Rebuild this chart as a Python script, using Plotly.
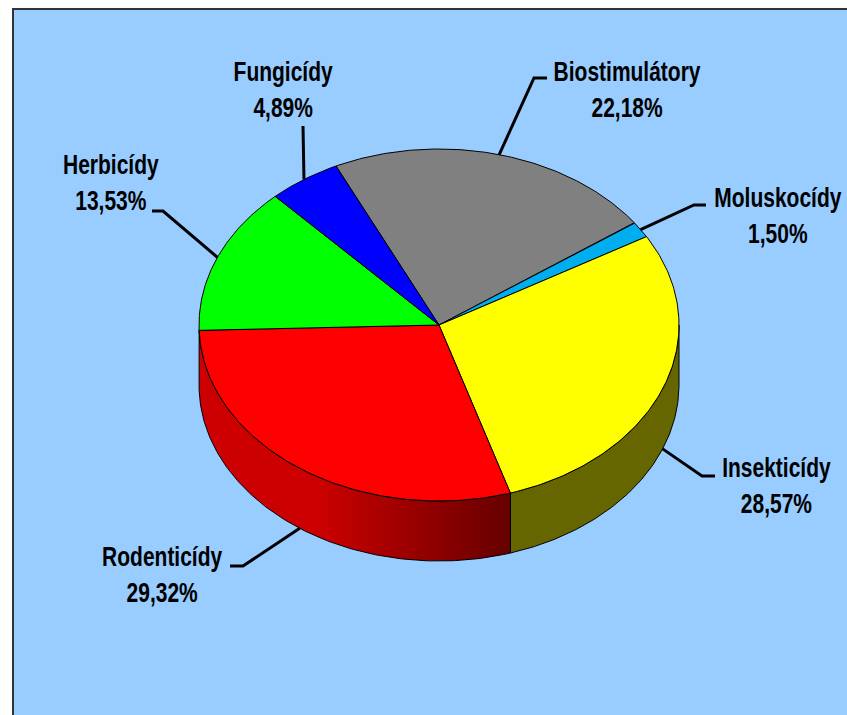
"""
Pesticide market shares, tilted 3D pie with filled scatter traces
"""

import numpy as np
import plotly.graph_objects as go

categories = ['Biostimulátory', 'Moluskocídy', 'Insekticídy', 'Rodenticídy', 'Herbicídy', 'Fungicídy']
shares = [22.18, 1.50, 28.57, 29.32, 13.53, 4.89]
share_labels = ['22,18%', '1,50%', '28,57%', '29,32%', '13,53%', '4,89%']

top_colors = ['#808080', '#00AEEF', '#FFFF00', '#FF0000', '#00FF00', '#0000FF']
side_colors = ['#404040', '#005878', '#666600', '#CC0000', '#008000', '#000080']

# pie geometry in page pixels
CX, CY = 439, 325
RX, RY = 240, 176
DEPTH = 60
START_DEG = -25.4

PAGE_W, PAGE_H = 847, 715

# label centre, then the elbow of its leader line and where the leader ends
label_pos = [(627, 89), (778, 215), (776, 485), (162, 574), (111, 182), (283, 89)]
leader_elbow = [(534, 78), (694, 205), (702, 476), (243, 566), (163, 211), (303, 126)]
leader_end = [(547, 78), (706, 205), (715, 476), (230, 566), (152, 211), (303, 126)]

FONT = 'Liberation Sans, Arial, sans-serif'

# drop the body margin, and no condensed bold font here so squeeze the labels
PAGE_FIXES = """
document.body.style.margin = '0';
document.body.style.overflow = 'hidden';
document.querySelectorAll('.annotation-text').forEach(function (t) {
    t.style.transformBox = 'fill-box';
    t.style.transformOrigin = 'center';
    t.style.transform = 'scaleX(0.75)';
});
"""


def rim(deg):
    """Point on the top ellipse, angle clockwise from 12 o'clock"""
    t = np.radians(deg)
    return CX + RX * np.sin(t), CY - RY * np.cos(t)


edges = START_DEG + np.concatenate([[0], np.cumsum(shares)]) * 3.6

fig = go.Figure()

# side walls, only the front half of the pie shows
for i, name in enumerate(categories):
    a = max(edges[i], 90)
    b = min(edges[i + 1], 270)
    if b - a < 2:
        continue
    x, y = rim(np.linspace(a, b, 120))
    trace = dict(
        x=np.concatenate([x, x[::-1], x[:1]]),
        y=np.concatenate([y, y[::-1] + DEPTH, y[:1]]),
        mode='lines',
        fill='toself',
        line=dict(color='black', width=1),
        hoverinfo='skip',
        showlegend=False,
    )
    if name == 'Rodenticídy':
        trace['fillgradient'] = dict(
            type='horizontal',
            colorscale=[[0, '#660000'], [0.62, '#CC0000'], [1, '#CC0000']],
            start=x.max(),
            stop=x.min(),
        )
    else:
        trace['fillcolor'] = side_colors[i]
    fig.add_trace(go.Scatter(**trace))

# top face
for i, name in enumerate(categories):
    x, y = rim(np.linspace(edges[i], edges[i + 1], 120))
    fig.add_trace(go.Scatter(
        x=np.concatenate([[CX], x, [CX]]),
        y=np.concatenate([[CY], y, [CY]]),
        mode='lines',
        fill='toself',
        fillcolor=top_colors[i],
        line=dict(color='black', width=1),
        name=name,
        text=share_labels[i],
        hoverinfo='name+text',
        showlegend=False,
    ))

# leader lines start at the middle of each slice, on the wall if it is in front
for i, name in enumerate(categories):
    mid = (edges[i] + edges[i + 1]) / 2
    x0, y0 = rim(mid)
    if 90 < mid < 270:
        y0 += DEPTH
    fig.add_trace(go.Scatter(
        x=[x0, leader_elbow[i][0], leader_end[i][0]],
        y=[y0, leader_elbow[i][1], leader_end[i][1]],
        mode='lines',
        line=dict(color='black', width=3),
        hoverinfo='skip',
        showlegend=False,
    ))
    fig.add_annotation(
        x=label_pos[i][0],
        y=label_pos[i][1],
        text=f'<b>{name}<br>{share_labels[i]}</b>',
        showarrow=False,
        xanchor='center',
        yanchor='middle',
        font=dict(family=FONT, size=28, color='black'),
    )

fig.update_layout(
    width=PAGE_W,
    height=PAGE_H,
    margin=dict(l=0, r=0, t=0, b=0),
    paper_bgcolor='white',
    plot_bgcolor='white',
    xaxis=dict(range=[0, PAGE_W], visible=False, fixedrange=True),
    yaxis=dict(range=[PAGE_H, 0], visible=False, fixedrange=True),
    shapes=[dict(
        type='rect', xref='x', yref='y', x0=13, y0=9, x1=900, y1=760,
        fillcolor='#99CCFF', line=dict(color='#333333', width=2), layer='below',
    )],
)

fig.write_html("out.html", post_script=PAGE_FIXES, config={'displayModeBar': False})
